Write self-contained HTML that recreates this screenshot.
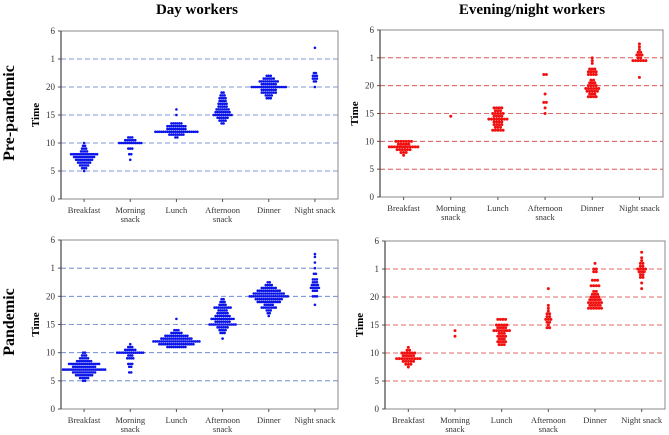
<!DOCTYPE html>
<html><head><meta charset="utf-8"><style>
body{margin:0;background:#fff;width:669px;height:435px;overflow:hidden}
svg{display:block}
text{font-family:"Liberation Serif",serif}
</style></head><body>
<svg id="chart" width="669" height="435" viewBox="0 0 669 435">
<text x="197" y="14" text-anchor="middle" font-size="15" font-weight="bold">Day workers</text>
<text x="532" y="14" text-anchor="middle" font-size="15" font-weight="bold">Evening/night workers</text>
<text transform="translate(14,113) rotate(-90)" text-anchor="middle" font-size="16" font-weight="bold">Pre-pandemic</text>
<text transform="translate(14,322) rotate(-90)" text-anchor="middle" font-size="16" font-weight="bold">Pandemic</text>
</svg>
<script>
const categories = ["Breakfast","Morning\nsnack","Lunch","Afternoon\nsnack","Dinner","Night snack"];
const tickValues = [0,5,10,15,20,25,30];
const tickLabels = ["0","5","10","15","20","1","6"];
// each category: [value, count] pairs
const dayPre = [
 [[5,1],[5.5,3],[6,5],[6.5,7],[7,9],[7.5,11],[8,14],[8.5,4],[9,3],[9.5,2],[10,1]],
 [[7,1],[8,2],[9,3],[10,12],[10.5,6],[11,3]],
 [[11,2],[11.5,8],[12,22],[12.5,10],[13,10],[13.5,6],[15,1],[16,1]],
 [[13.5,2],[14,4],[14.5,6],[15,10],[15.5,8],[16,7],[16.5,5],[17,5],[17.5,4],[18,4],[18.5,3],[19,2]],
 [[18,3],[18.5,4],[19,8],[19.5,8],[20,18],[20.5,8],[21,10],[21.5,6],[22,3]],
 [[20,1],[21,2],[21.5,3],[22,3],[22.5,2],[27,1]]
];
const dayPan = [
 [[5,2],[5.5,5],[6,9],[6.5,12],[7,22],[7.5,12],[8,16],[8.5,8],[9,5],[9.5,3],[10,2]],
 [[6.5,2],[7.5,2],[8,3],[9,4],[9.5,3],[10,14],[10.5,6],[11,3],[11.5,1]],
 [[11,10],[11.5,18],[12,24],[12.5,16],[13,12],[13.5,6],[14,3],[16,1]],
 [[12.5,1],[13.5,3],[14,4],[14.5,6],[15,14],[15.5,8],[16,12],[16.5,8],[17,6],[17.5,5],[18,9],[18.5,4],[19,3],[19.5,2]],
 [[16.5,1],[17,2],[17.5,3],[18,8],[18.5,5],[19,12],[19.5,14],[20,20],[20.5,16],[21,12],[21.5,8],[22,4],[22.5,2]],
 [[18.5,1],[20,3],[21,3],[21.5,5],[22,4],[22.5,3],[23,3],[24,2],[25,1],[26,1],[27,1],[27.5,1]]
];
const evePre = [
 [[7.5,1],[8,3],[8.5,6],[9,12],[9.5,5],[10,7]],
 [[14.5,1]],
 [[12,5],[12.5,3],[13,4],[13.5,4],[14,8],[14.5,4],[15,5],[15.5,3],[16,4]],
 [[15,1],[16,1],[17,2],[18.5,1],[22,2]],
 [[18,4],[18.5,3],[19,5],[19.5,6],[20,4],[20.5,3],[21,2],[22,4],[22.5,4],[23,3],[24,1],[24.5,1],[25,1]],
 [[21.5,1],[24.5,6],[25,2],[25.5,3],[26,2],[26.5,1],[27,1],[27.5,1]]
];
const evePan = [
 [[7.5,1],[8,3],[8.5,5],[9,10],[9.5,5],[10,6],[10.5,2],[11,1]],
 [[13,1],[14,1]],
 [[11.5,3],[12,4],[12.5,3],[13,4],[13.5,3],[14,7],[14.5,4],[15,5],[16,4]],
 [[14.5,2],[15,1],[15.5,2],[16,3],[16.5,2],[17,2],[17.5,1],[18,1],[18.5,1],[21.5,1]],
 [[18,6],[18.5,5],[19,6],[19.5,5],[20,4],[20.5,3],[21,2],[22,4],[23,3],[24.5,2],[25,2],[26,1]],
 [[21.5,1],[22.5,1],[23.5,2],[24,2],[24.5,3],[25,4],[25.5,2],[26,2],[26.5,1],[27,1],[28,1]]
];
const panels = [
 {id:"day-pre",data:dayPre,x0:61,x1:338,y0:31,y1:199,col:"#0a14e6",grid:"#5a7ac8",r:1.3,dx:2},
 {id:"evening-pre",data:evePre,x0:380,x1:663,y0:30,y1:197,col:"#f01010",grid:"#d83a3a",r:1.5,dx:2.6},
 {id:"day-pandemic",data:dayPan,x0:61,x1:338,y0:240,y1:409,col:"#0a14e6",grid:"#5a7ac8",r:1.3,dx:2},
 {id:"evening-pandemic",data:evePan,x0:385,x1:665,y0:241,y1:409,col:"#f01010",grid:"#d83a3a",r:1.5,dx:2.6}
];
const svg=document.getElementById('chart');
const NS="http://www.w3.org/2000/svg";
function mk(tag,attrs,parent){const e=document.createElementNS(NS,tag);for(const k in attrs)e.setAttribute(k,attrs[k]);(parent||svg).appendChild(e);return e;}
panels.forEach(p=>{
 const g=mk('g',{});
 
 
 const ys=v=>p.y1-(v/30)*(p.y1-p.y0);
 const bw=(p.x1-p.x0)/categories.length;
 const xs=i=>p.x0+bw*(i+0.5);
 tickValues.forEach((v,i)=>{
  if(v>0&&v<30){const l=mk('line',{x1:p.x0,x2:p.x1,y1:ys(v),y2:ys(v),stroke:p.grid,'stroke-width':0.8,'stroke-dasharray':'5,3'},g);
   
   }
  const tk=mk('line',{x1:p.x0-3,x2:p.x0,y1:ys(v),y2:ys(v),stroke:'#555'},g);
  
  
  const t=mk('text',{x:p.x0-6,y:ys(v)+3,'text-anchor':'end','font-size':9,fill:'#333'},g);
  t.textContent=tickLabels[i];
  
  
 });
 const fr=mk('rect',{x:p.x0,y:p.y0,width:p.x1-p.x0,height:p.y1-p.y0,fill:'none',stroke:'#888','stroke-width':1},g);
 
 
 const ax=mk('line',{x1:p.x0,x2:p.x0,y1:p.y0,y2:p.y1,stroke:'#444','stroke-width':1.2},g);
 
 
 const yt=mk('text',{transform:`translate(${p.x0-22},${(p.y0+p.y1)/2}) rotate(-90)`,'text-anchor':'middle','font-size':11,'font-weight':'bold'},g);
 yt.textContent='Time';
 
 
 categories.forEach((c,i)=>{
  const tk=mk('line',{x1:xs(i),x2:xs(i),y1:p.y1,y2:p.y1+3,stroke:'#555'},g);
  
  
  c.split('\n').forEach((ln,j)=>{
   const t=mk('text',{x:xs(i),y:p.y1+14+j*9,'text-anchor':'middle','font-size':8.5,fill:'#333'},g);
   t.textContent=ln;
   
   
  });
  p.data[i].forEach(([v,n])=>{
   for(let k=0;k<n;k++){
    const off=(k-(n-1)/2)*p.dx;
    const d=mk('circle',{cx:xs(i)+off,cy:ys(v),r:p.r,fill:p.col},g);
    
    
   }
  });
 });
});
</script>
</body></html>
